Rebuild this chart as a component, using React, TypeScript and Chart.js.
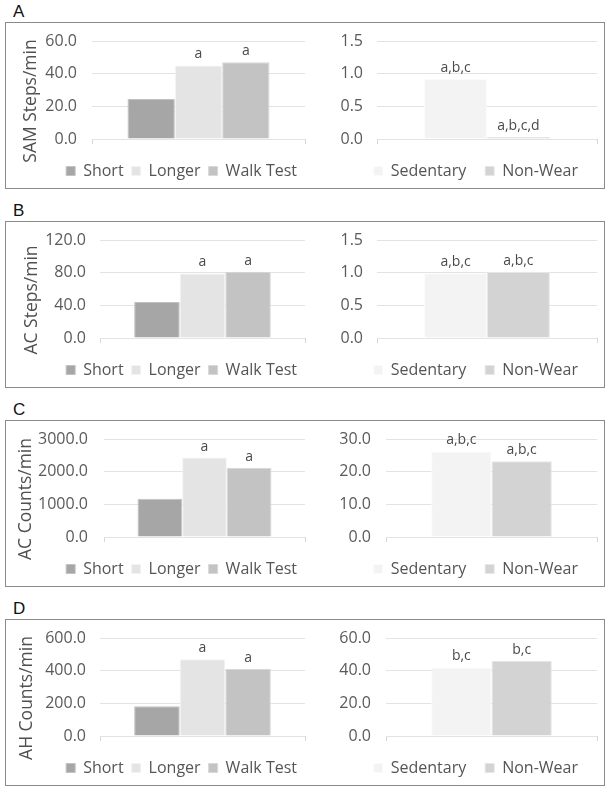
import React, { useEffect, useRef } from 'react';
import { Chart, registerables } from 'chart.js';

Chart.register(...registerables);

// ---------- data ----------
const panelLetters = ['A', 'B', 'C', 'D'];
const yAxisTitles = ['SAM Steps/min', 'AC Steps/min', 'AC Counts/min', 'AH Counts/min'];
const activityCategories = ['Short', 'Longer', 'Walk Test'];
const inactivityCategories = ['Sedentary', 'Non-Wear'];

const samStepsActivity = [24.5, 45.0, 47.0];
const samStepsInactivity = [0.92, 0.03];
const acStepsActivity = [44.0, 79.0, 81.0];
const acStepsInactivity = [0.99, 1.01];
const acCountsActivity = [1170, 2430, 2120];
const acCountsInactivity = [26.2, 23.2];
const ahCountsActivity = [182, 470, 410];
const ahCountsInactivity = [42.0, 46.0];

const activityMarks = ['', 'a', 'a'];
const samInactivityMarks = ['a,b,c', 'a,b,c,d'];
const acStepsInactivityMarks = ['a,b,c', 'a,b,c'];
const acCountsInactivityMarks = ['a,b,c', 'a,b,c'];
const ahInactivityMarks = ['b,c', 'b,c'];

const activityAxisMax = [60, 120, 3000, 600];
const activityAxisStep = [20, 40, 1000, 200];
const inactivityAxisMax = [1.5, 1.5, 30, 60];
const inactivityAxisStep = [0.5, 0.5, 10, 20];

const activitySeries = [samStepsActivity, acStepsActivity, acCountsActivity, ahCountsActivity];
const inactivitySeries = [samStepsInactivity, acStepsInactivity, acCountsInactivity, ahCountsInactivity];
const inactivityMarks = [samInactivityMarks, acStepsInactivityMarks, acCountsInactivityMarks, ahInactivityMarks];

// ---------- layout & styles ----------
const FONT = "'Open Sans', 'Noto Sans', sans-serif";
const activityColors = ['#a6a6a6', '#e4e4e4', '#c3c3c3'];
const activityBorders = ['#c2c2c2', '#f3f3f3', '#d8d8d8'];
const inactivityColors = ['#f3f3f3', '#d3d3d3'];
const inactivityBorders = ['#fbfbfb', '#e6e6e6'];
const boxTops = [22, 221, 420, 619];
const leftAxisWidths = [86, 94, 98, 94];
const leftTickPads = [15, 14, 16, 14];
const rightAxisWidths = [71, 71, 80, 80];
const rightTickPads = [14, 14, 15, 15];
const titleXs = [25.5, 26, 20.5, 21];
const TOP_PAD = 30;       // chart area top inside the canvas
const CANVAS_SHIFT = 11;  // canvas starts this far above the panel box

const barNotesPlugin = {
  id: 'barNotes',
  afterDatasetsDraw(chart: any, _args: any, opts: any) {
    const labels: string[] = opts.labels || [];
    const ctx = chart.ctx;
    ctx.save();
    ctx.font = `14px ${FONT}`;
    ctx.fillStyle = '#4a4a4a';
    ctx.textAlign = 'center';
    ctx.textBaseline = 'bottom';
    chart.data.datasets.forEach((_d: any, i: number) => {
      const text = labels[i];
      if (!text) return;
      const el = chart.getDatasetMeta(i).data[0];
      if (!el) return;
      ctx.fillText(text, el.x, el.y - 4);
    });
    ctx.restore();
  },
};

const yTitlePlugin = {
  id: 'yTitle',
  afterDraw(chart: any, _args: any, opts: any) {
    if (!opts.text) return;
    const { ctx, chartArea } = chart;
    ctx.save();
    ctx.translate(opts.x, (chartArea.top + chartArea.bottom) / 2 + opts.dy);
    ctx.rotate(-Math.PI / 2);
    ctx.font = `17.5px ${FONT}`;
    ctx.fillStyle = '#505050';
    ctx.textAlign = 'center';
    ctx.textBaseline = 'middle';
    ctx.fillText(opts.text, 0, 0);
    ctx.restore();
  },
};

type PanelProps = {
  categories: string[];
  values: number[];
  marks: string[];
  max: number;
  step: number;
  title: string;
  titleX: number;
  colors: string[];
  borders: string[];
  axisWidth: number;
  tickPad: number;
  rightPad: number;
  legendPad: number;
  xAxisHeight: number;
  width: number;
  height: number;
  left: number;
  top: number;
};

function PanelChart(p: PanelProps) {
  const ref = useRef<HTMLCanvasElement | null>(null);
  useEffect(() => {
    if (!ref.current) return;
    const n = p.categories.length;
    const chart = new Chart(ref.current, {
      type: 'bar',
      data: {
        labels: [''],
        datasets: p.categories.map((c, i) => ({
          label: c,
          data: [p.values[i]],
          backgroundColor: p.colors[i],
          borderColor: p.borders[i],
          borderWidth: 1,
          borderSkipped: 'bottom',
          categoryPercentage: n / (n + 1.5),
          barPercentage: 1,
        })),
      },
      options: {
        animation: false,
        responsive: false,
        layout: { autoPadding: false, padding: { top: TOP_PAD, right: p.rightPad, bottom: 3, left: 0 } },
        scales: {
          x: {
            grid: { display: true, offset: true, drawOnChartArea: false, drawTicks: true, tickLength: 5, color: '#d6d6d6' },
            border: { display: false },
            ticks: { display: false },
            afterFit: (s: any) => { s.height = p.xAxisHeight; },
          },
          y: {
            min: 0,
            max: p.max,
            ticks: {
              stepSize: p.step,
              callback: (v: any) => Number(v).toFixed(1),
              color: '#5a5a5a',
              font: { family: FONT, size: 16 },
              padding: p.tickPad,
            },
            grid: { color: '#e3e3e3', drawTicks: false },
            border: { display: false },
            afterFit: (s: any) => { s.width = p.axisWidth; },
          },
        },
        plugins: {
          legend: {
            position: 'bottom',
            align: 'end',
            labels: {
              boxWidth: 9,
              boxHeight: 9,
              padding: p.legendPad,
              color: '#555555',
              font: { family: FONT, size: 16 },
            },
          },
          tooltip: { enabled: false },
          barNotes: { labels: p.marks },
          yTitle: { text: p.title, x: p.titleX, dy: 11 },
        } as any,
      },
      plugins: [barNotesPlugin, yTitlePlugin],
    } as any);
    return () => chart.destroy();
  }, []);
  return (
    <canvas
      ref={ref}
      width={p.width}
      height={p.height}
      style={{ position: 'absolute', left: p.left, top: p.top, width: p.width, height: p.height }}
    />
  );
}

export default function App() {
  return (
    <div style={{ position: 'absolute', left: 0, top: 0, width: 611, height: 790, background: '#ffffff' }}>
      {panelLetters.map((letter, k) => {
        const t = boxTops[k];
        return (
          <React.Fragment key={letter}>
            <div
              style={{
                position: 'absolute',
                left: 13,
                top: t - 19,
                fontFamily: "'Liberation Sans', Arial, sans-serif",
                fontSize: 17,
                lineHeight: '17px',
                color: '#111111',
              }}
            >
              {letter}
            </div>
            <div
              style={{
                position: 'absolute',
                left: 5,
                top: t,
                width: 600,
                height: 167,
                boxSizing: 'border-box',
                border: '1px solid #8a8a8a',
              }}
            />
            <PanelChart
              categories={activityCategories}
              values={activitySeries[k]}
              marks={activityMarks}
              max={activityAxisMax[k]}
              step={activityAxisStep[k]}
              title={yAxisTitles[k]}
              titleX={titleXs[k]}
              colors={activityColors}
              borders={activityBorders}
              axisWidth={leftAxisWidths[k]}
              tickPad={leftTickPads[k]}
              rightPad={1}
              legendPad={8}
              xAxisHeight={16}
              width={300}
              height={181}
              left={6}
              top={t - CANVAS_SHIFT}
            />
            <PanelChart
              categories={inactivityCategories}
              values={inactivitySeries[k]}
              marks={inactivityMarks[k]}
              max={inactivityAxisMax[k]}
              step={inactivityAxisStep[k]}
              title={''}
              titleX={0}
              colors={inactivityColors}
              borders={inactivityBorders}
              axisWidth={rightAxisWidths[k]}
              tickPad={rightTickPads[k]}
              rightPad={7}
              legendPad={19}
              xAxisHeight={5}
              width={298}
              height={181}
              left={306}
              top={t - CANVAS_SHIFT}
            />
          </React.Fragment>
        );
      })}
    </div>
  );
}
